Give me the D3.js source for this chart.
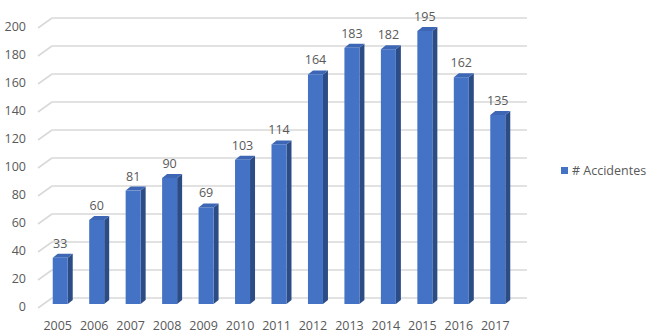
<!DOCTYPE html>
<html><head><meta charset="utf-8">
<script src="https://cdn.jsdelivr.net/npm/d3@7"></script>
<style>body{margin:0;background:#fff}svg{display:block}text{font-family:"Open Sans",sans-serif;fill:#595959}</style>
</head><body>
<svg id="c" width="650" height="333"></svg>
<script>
const categories = ["2005","2006","2007","2008","2009","2010","2011","2012","2013","2014","2015","2016","2017"];
const accidentes = [33,60,81,90,69,103,114,164,183,182,195,162,135];
const yTicks = [0,20,40,60,80,100,120,140,160,180,200];
const seriesName = "# Accidentes";

const svg = d3.select("#c");
const x = d3.scaleBand().domain(categories).range([39, 513]).padding(0);
const yFront = d3.scaleLinear().domain([0,200]).range([308, 28]);
const yBack = d3.scaleLinear().domain([0,200]).range([298, 18]);
const yBar = d3.scaleLinear().domain([0,200]).range([304, 24]);
const depthX = 14, barW = 15, bdx = 5, bdy = 4;
const fs = 12.5;

// gridlines (back wall + side wall)
const g = svg.append("g");
yTicks.forEach(v => {
  g.append("line").attr("x1", 52).attr("x2", 527).attr("y1", yBack(v)).attr("y2", yBack(v))
    .attr("stroke", "#d9d9d9").attr("stroke-width", 1.6);
  g.append("line").attr("x1", 38).attr("x2", 38 + depthX).attr("y1", yFront(v)).attr("y2", yBack(v))
    .attr("stroke", "#d9d9d9").attr("stroke-width", 1.6);
});

// y tick labels
svg.append("g").selectAll("text").data(yTicks).join("text")
  .attr("x", 26).attr("y", d => yFront(d) - 1).attr("dy", "0.35em")
  .attr("text-anchor", "end").attr("font-size", fs).text(d => d);

// bars
const bars = svg.append("g").selectAll("g").data(categories.map((c,i)=>({c, v: accidentes[i]}))).join("g");
bars.each(function(d){
  const gg = d3.select(this);
  const cx = x(d.c) + x.bandwidth()/2 + 3;
  const x0 = cx - barW/2, x1 = cx + barW/2;
  const yt = yBar(d.v), yb = yBar(0);
  gg.append("path").attr("d", `M${x1},${yt}L${x1+bdx},${yt-bdy}L${x1+bdx},${yb-bdy}L${x1},${yb}Z`).attr("fill", "#2c4c86");
  gg.append("path").attr("d", `M${x0},${yt}L${x0+bdx},${yt-bdy}L${x1+bdx},${yt-bdy}L${x1},${yt}Z`).attr("fill", "#3d67b5");
  gg.append("rect").attr("x", x0).attr("y", yt).attr("width", barW).attr("height", yb - yt).attr("fill", "#4472c4");
  gg.append("text").attr("x", cx).attr("y", yt - 10).attr("text-anchor", "middle")
    .attr("font-size", fs).attr("fill", "#404040").text(d.v);
});

// category labels
svg.append("g").selectAll("text").data(categories).join("text")
  .attr("x", d => x(d) + x.bandwidth()/2 + 0.5).attr("y", 330)
  .attr("text-anchor", "middle").attr("font-size", fs).text(d => d);

// legend
svg.append("rect").attr("x", 561).attr("y", 167).attr("width", 7).attr("height", 7).attr("fill", "#4472c4");
svg.append("text").attr("x", 572).attr("y", 171).attr("dy", "0.35em").attr("font-size", fs).text(seriesName);
</script>
</body></html>
